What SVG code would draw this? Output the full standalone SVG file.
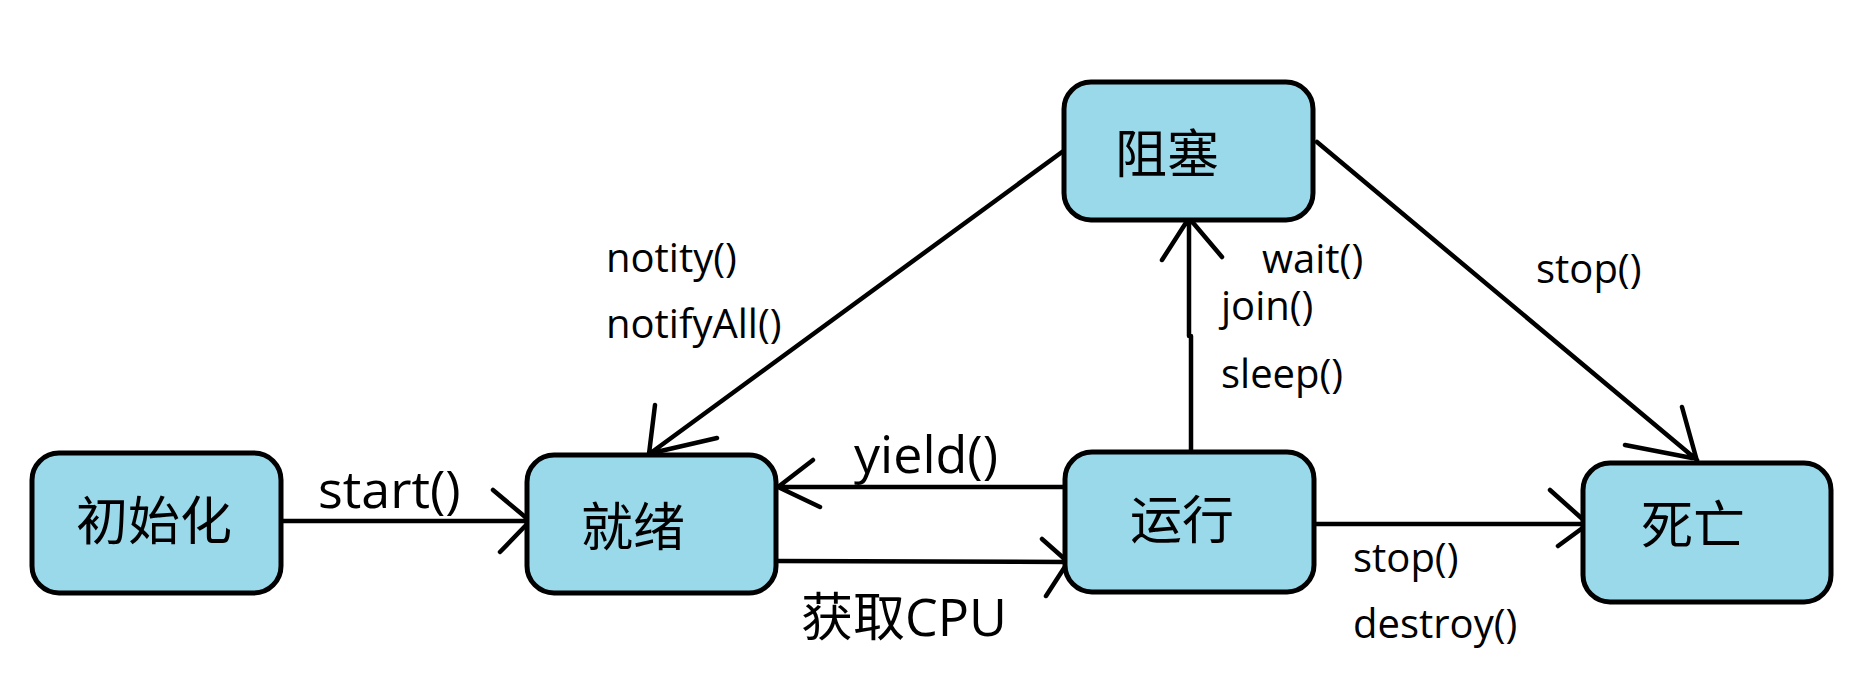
<svg xmlns="http://www.w3.org/2000/svg" width="1861" height="678" viewBox="0 0 1861 678">
<style>
.box{fill:#99D9EA;stroke:#000;stroke-width:5}
.node{font-family:"Open Sans","Noto Sans CJK SC",sans-serif;font-size:52px;fill:#000;text-anchor:middle}
.big{font-family:"Open Sans","Noto Sans CJK SC",sans-serif;font-size:52px;fill:#000}
.small{font-family:"Open Sans","Noto Sans CJK SC",sans-serif;font-size:40px;fill:#000}
.ln{fill:none;stroke:#000;stroke-width:4.5;stroke-linecap:round;stroke-linejoin:round}
</style>
<rect width="1861" height="678" fill="#fff"/>
<g id="connectors">
  <g id="e-start">
    <path class="ln" d="M281,521 L530,521 M493,490 L530,521 L500,552"/>
    <text class="big" x="318" y="508">start()</text>
  </g>
  <g id="e-getcpu">
    <path class="ln" d="M776,561 L1067,562 M1042,539 L1068,562 L1046,596"/>
    <text class="big" x="801" y="636">获取CPU</text>
  </g>
  <g id="e-yield">
    <path class="ln" d="M1065,487 L778,487 M813,460 L778,487 L820,507"/>
    <text class="big" x="854" y="473">yield()</text>
  </g>
  <g id="e-block">
    <path class="ln" d="M1191,452 L1191,336 L1189,336 L1189,218 M1162,260 L1189,218 L1222,257"/>
    <text class="small" x="1262" y="273">wait()</text>
    <text class="small" x="1221" y="320">join()</text>
    <text class="small" x="1221" y="388">sleep()</text>
  </g>
  <g id="e-notify">
    <path class="ln" d="M1062,152 L652,452 M655,405 L648,462 M717,438 L652,453"/>
    <text class="small" x="606" y="272">notity()</text>
    <text class="small" x="606" y="338">notifyAll()</text>
  </g>
  <g id="e-stop1">
    <path class="ln" d="M1314,524 L1588,524 M1550,490 L1588,524 L1558,546"/>
    <text class="small" x="1353" y="572">stop()</text>
    <text class="small" x="1353" y="638">destroy()</text>
  </g>
  <g id="e-stop2">
    <path class="ln" d="M1317,142 L1697,460 M1682,407 L1697,461 M1625,445 L1692,458"/>
    <text class="small" x="1536" y="283">stop()</text>
  </g>
</g>
<g id="n-init">
  <rect class="box" x="32" y="453" width="249" height="140" rx="27"/>
  <text class="node" x="154" y="540">初始化</text>
</g>
<g id="n-ready">
  <rect class="box" x="527" y="455" width="249" height="138" rx="27"/>
  <text class="node" x="633" y="546">就绪</text>
</g>
<g id="n-run">
  <rect class="box" x="1065" y="452" width="249" height="140" rx="27"/>
  <text class="node" x="1182" y="539">运行</text>
</g>
<g id="n-blocked">
  <rect class="box" x="1064" y="82" width="249" height="138" rx="27"/>
  <text class="node" x="1167" y="173">阻塞</text>
</g>
<g id="n-dead">
  <rect class="box" x="1583" y="463" width="248" height="139" rx="27"/>
  <text class="node" x="1693" y="544">死亡</text>
</g>
</svg>
